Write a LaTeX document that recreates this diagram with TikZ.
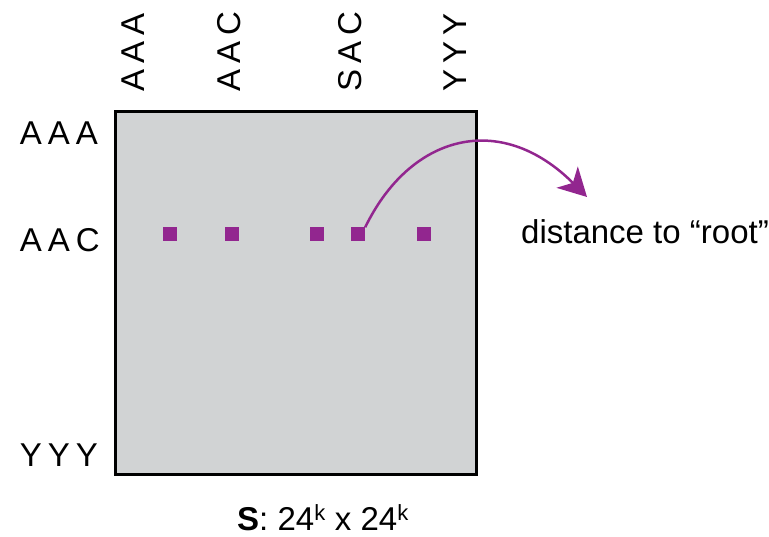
\documentclass[tikz,border=0pt]{standalone}
\usepackage{fontspec}
\setmainfont{Liberation Sans}
\usetikzlibrary{arrows.meta}
\definecolor{purp}{RGB}{146,38,143}
\definecolor{boxgray}{RGB}{209,211,212}
\newcommand{\tri}[3]{#1\hspace{6pt}#2\hspace{6pt}#3}
\newcommand{\supk}{\textsuperscript{\fontsize{22}{22}\selectfont k}}
\begin{document}
\begin{tikzpicture}[x=1pt, y=-1pt,
  lab/.style={inner sep=0pt, font=\fontsize{33}{33}\selectfont},
  collab/.style={lab, rotate=90, anchor=west},
  rowlab/.style={lab, anchor=east},
  cell/.style={fill=purp, minimum size=14pt, inner sep=0pt}
]
\useasboundingbox (0,0) rectangle (769,537);

% --- the matrix ---
\draw[line width=3pt, fill=boxgray] (115,112) rectangle (476,474);

% --- column labels ---
\node[collab] (cA) at (133,92) {\tri AAA};
\node[collab] (cB) at (229,92) {\tri AAC};
\node[collab] (cC) at (350,92) {\tri SAC};
\node[collab] (cD) at (455,92) {\tri YYY};

% --- row labels ---
\node[rowlab] (rA) at (98,133) {\tri AAA};
\node[rowlab] (rB) at (100,240) {\tri AAC};
\node[rowlab] (rC) at (98,455) {\tri YYY};

% --- entries of row AAC ---
\node[cell] (s1) at (169.5,234.5) {};
\node[cell] (s2) at (232,234.5) {};
\node[cell] (s3) at (317,234.5) {};
\node[cell] (s4) at (358,234.5) {};
\node[cell] (s5) at (424,234.5) {};

% --- arrow to the note ---
\node[lab, anchor=west] (dist) at (521,232) {distance to “root”};
\coordinate (tip) at (587,197);
\draw[purp, line width=2.5pt, -{Stealth[length=28pt, width=30pt, inset=8pt]}]
  (s4.north east) .. controls (410,135) and (500,110) .. (tip);

% --- size note ---
\node[lab, anchor=base] (size) at (323,530) {\textbf{S}: 24\supk\ x 24\supk};
\end{tikzpicture}
\end{document}
